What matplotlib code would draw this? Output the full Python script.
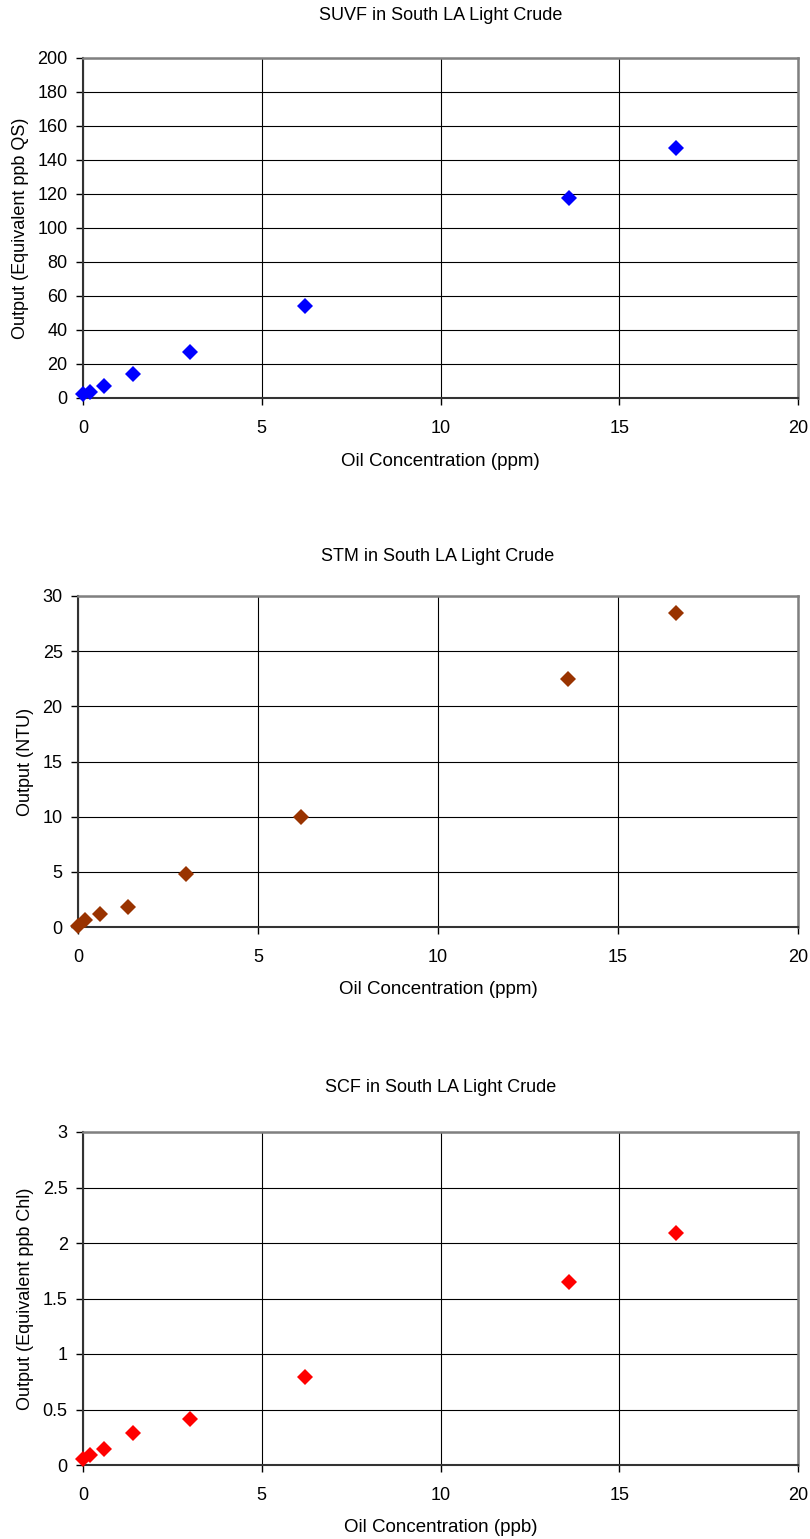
import matplotlib
matplotlib.use("Agg")
import matplotlib.pyplot as plt

# oil concentration, same for all three sensors
oil_conc = [0, 0.2, 0.6, 1.4, 3.0, 6.2, 13.6, 16.6]

suvf_out = [2.4, 3.7, 7, 14, 27, 54, 117.5, 147]
stm_out = [0.1, 0.6, 1.15, 1.85, 4.8, 10, 22.5, 28.5]
scf_out = [0.05, 0.09, 0.14, 0.29, 0.41, 0.79, 1.65, 2.09]

titles = ["SUVF in South LA Light Crude", "STM in South LA Light Crude", "SCF in South LA Light Crude"]
ylabels = ["Output (Equivalent ppb QS)", "Output (NTU)", "Output (Equivalent ppb Chl)"]
xlabels = ["Oil Concentration (ppm)", "Oil Concentration (ppm)", "Oil Concentration (ppb)"]
colors = ["#0000FF", "#993300", "#FF0000"]
ymax = [200, 30, 3]
ystep = [20, 5, 0.5]

plt.rcParams["font.family"] = ["Liberation Sans", "DejaVu Sans"]

W, H = 810, 1539
fig = plt.figure(figsize=(W / 100, H / 100), dpi=100)

# axes boxes in pixels: left, right, top, bottom
boxes = [(83, 798, 58, 398), (78, 798, 596, 927), (83, 798, 1132, 1465)]
title_y = [16, 557, 1088]

series = [suvf_out, stm_out, scf_out]
for i in range(3):
    l, r, t, b = boxes[i]
    ax = fig.add_axes([l / W, 1 - b / H, (r - l) / W, (b - t) / H])
    ax.plot(oil_conc, series[i], linestyle="none", marker="D", ms=8.5,
            color=colors[i], markeredgewidth=0, zorder=3, clip_on=False)
    ax.set_xlim(0, 20)
    ax.set_ylim(0, ymax[i])
    ax.set_xticks(range(0, 21, 5))
    yt = [k * ystep[i] for k in range(int(round(ymax[i] / ystep[i])) + 1)]
    ax.set_yticks(yt)
    ax.set_yticklabels([("%g" % v) for v in yt])
    ax.grid(True, color="black", linewidth=0.8)
    ax.set_axisbelow(True)
    for s in ["top", "right"]:
        ax.spines[s].set_color("#808080")
        ax.spines[s].set_linewidth(1.8)
    for s in ["left", "bottom"]:
        ax.spines[s].set_color("#333333")
        ax.spines[s].set_linewidth(1.5)
    ax.tick_params(direction="out", length=5, width=1, labelsize=13)
    ax.tick_params(axis="x", pad=11)
    ax.tick_params(axis="y", pad=6)
    ax.set_xlabel(xlabels[i], fontsize=13.5, labelpad=11)
    ax.set_ylabel(ylabels[i], fontsize=13, labelpad=6)
    fig.text((l + r) / 2 / W, 1 - title_y[i] / H, titles[i], ha="center", va="center", fontsize=13)

fig.savefig("out.png", dpi=100)
